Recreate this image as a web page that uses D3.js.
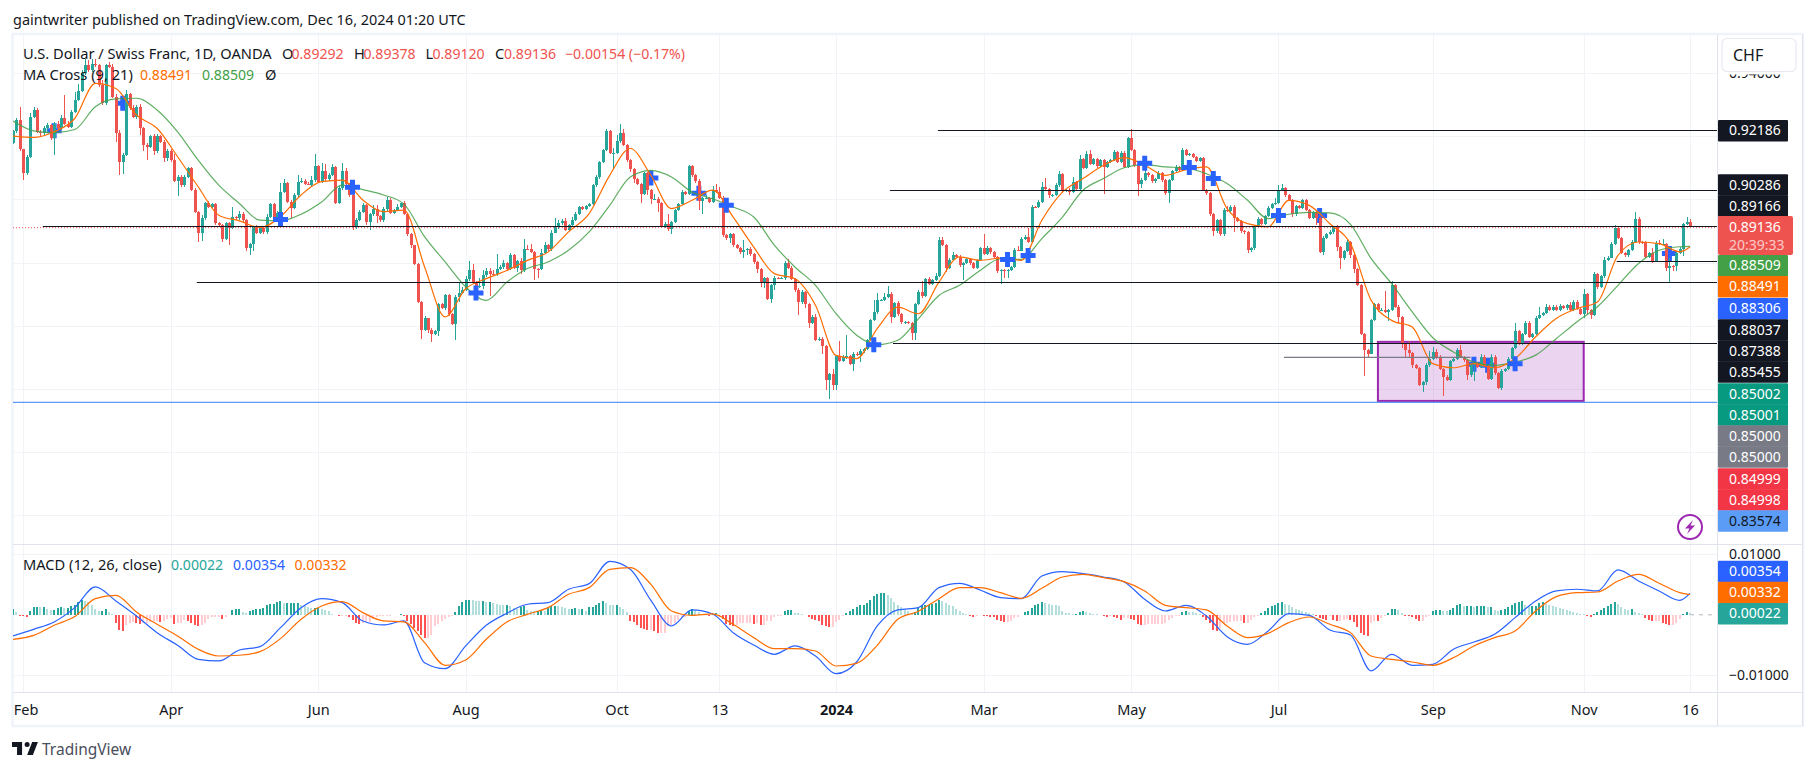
<!DOCTYPE html>
<html>
<head>
<meta charset="utf-8">
<script src="https://cdn.jsdelivr.net/npm/d3@7"></script>
<style>
  body { margin: 0; background: #fff; }
  text { font-family: "Noto Sans", sans-serif; font-size: 14px; fill: #131722; }
</style>
</head>
<body>
<div id="chart"></div>
<script>
// daily closes, in pips (1e-4 CHF)
const firstOpen = 9180;
const closes = [
9215,9251,9158,9082,9135,9262,9283,9214,9209,9225,
9235,9193,9240,9225,9256,9240,9230,9277,9316,9344,
9399,9425,9409,9430,9425,9362,9304,9425,9420,9325,
9211,9119,9142,9335,9288,9262,9293,9225,9172,9167,
9200,9154,9200,9182,9130,9154,9124,9059,9072,9045,
9072,9098,9031,8961,8894,8940,8989,8977,8985,8924,
8919,8876,8924,8910,8945,8940,8955,8934,8845,8858,
8911,8894,8910,8897,8945,8985,8943,8958,9024,9053,
8992,8974,9014,9056,9058,9050,9047,9061,9105,9056,
9091,9063,9077,9103,8989,9035,9090,9048,9014,8915,
8936,8961,8982,8927,8953,8971,8947,8934,8968,8999,
8958,8966,8977,8987,8953,8890,8854,8795,8676,8588,
8623,8588,8575,8583,8668,8655,8696,8636,8606,8691,
8704,8714,8749,8775,8738,8723,8726,8760,8772,8765,
8763,8781,8786,8799,8781,8823,8784,8805,8775,8844,
8843,8833,8781,8780,8830,8857,8843,8895,8912,8926,
8930,8904,8918,8936,8955,8976,8970,8978,8986,9045,
9071,9118,9157,9215,9147,9148,9185,9210,9171,9124,
9097,9066,9050,9018,9083,9029,9000,9002,8989,8913,
8923,8906,8928,8967,8986,9023,9018,9105,9076,9058,
8995,9005,9005,8992,9029,9023,9005,8886,8878,8889,
8855,8847,8833,8839,8844,8826,8802,8781,8735,8751,
8686,8728,8751,8750,8751,8800,8784,8749,8712,8675,
8707,8670,8609,8628,8556,8559,8535,8427,8448,8411,
8503,8488,8501,8503,8478,8511,8506,8520,8526,8556,
8617,8643,8680,8680,8691,8701,8628,8672,8636,8611,
8611,8610,8577,8670,8707,8693,8748,8733,8744,8757,
8870,8856,8784,8809,8823,8818,8791,8798,8810,8799,
8784,8807,8847,8828,8847,8833,8818,8773,8778,8777,
8777,8786,8839,8838,8876,8880,8865,8976,8975,8992,
9039,9034,9013,9015,9045,9079,9029,9030,9023,9055,
9034,9129,9100,9145,9113,9129,9105,9124,9103,9118,
9124,9150,9118,9147,9103,9194,9155,9108,9048,9062,
9084,9076,9058,9066,9084,9060,9020,9060,9090,9103,
9094,9157,9140,9143,9134,9120,9132,9029,9020,8953,
8900,8934,8889,8967,8962,8976,8942,8932,8900,8896,
8839,8846,8915,8939,8923,8946,8974,8984,8989,9029,
9037,9013,8997,8955,8978,8974,8997,8966,8942,8960,
8940,8834,8879,8890,8897,8911,8850,8813,8837,8865,
8823,8781,8728,8575,8522,8512,8617,8668,8649,8651,
8644,8649,8728,8660,8628,8541,8522,8514,8475,8467,
8414,8422,8475,8496,8517,8501,8464,8438,8429,8489,
8495,8522,8501,8490,8443,8475,8480,8470,8501,8472,
8433,8501,8451,8404,8457,8464,8496,8528,8583,8543,
8573,8609,8563,8573,8623,8633,8640,8660,8649,8660,
8649,8662,8655,8665,8649,8675,8654,8638,8700,8650,
8633,8765,8723,8757,8809,8816,8860,8908,8879,8831,
8823,8841,8865,8939,8865,8864,8818,8831,8805,8862,
8860,8860,8784,8790,8789,8831,8844,8921,8929,8913.6];

// wick length above / below the body, in pips
const upWicks = [
5,5,40,3,5,12,10,5,5,8, 8,5,5,8,12,75,8,5,25,20, 10,20,15,15,15,3,15,5,10,8, 8,8,5,10,3,12,5,8,5,5,
5,8,8,5,5,6,5,20,5,5, 5,5,3,5,3,12,3,5,5,5, 5,3,5,5,32,3,8,5,3,3, 3,8,5,5,8,3,5,5,28,10,
3,5,5,20,10,5,5,12,40,5, 25,22,5,8,3,8,25,8,5,5, 5,5,5,3,5,12,10,5,8,10, 5,5,8,3,8,3,3,3,3,3,
8,3,5,5,3,5,3,3,3,5, 30,10,10,30,20,3,25,15,12,10, 10,45,5,8,3,8,5,3,10,30, 10,15,3,3,12,8,3,8,30,8,
8,10,5,8,5,3,3,3,3,3, 5,3,3,8,3,15,20,30,12,5, 5,3,3,3,3,5,5,15,5,3, 5,30,3,3,3,8,3,5,3,3,
5,3,10,3,12,20,15,5,3,5, 3,3,3,32,3,5,3,3,3,3, 3,5,5,3,3,5,10,5,3,8, 5,3,3,5,10,5,5,3,3,15,
3,50,5,68,3,5,5,5,5,3, 3,40,25,5,12,25,5,3,5,3, 3,3,3,3,5,35,3,5,5,10, 12,10,3,5,10,3,5,5,3,3,
3,5,3,42,5,3,5,3,3,3, 3,3,8,12,5,8,30,5,3,5, 15,30,3,3,8,12,3,3,5,15, 3,12,3,8,10,3,3,3,3,5,
5,5,3,5,5,3,28,3,3,5, 8,3,3,3,5,3,3,3,3,5, 3,5,3,5,3,3,3,3,3,3, 3,5,3,5,12,5,5,3,3,3,
3,3,3,5,3,5,5,5,15,15, 12,3,3,3,5,3,5,3,3,3, 5,3,5,3,5,5,8,3,3,5, 3,3,3,3,3,3,5,5,3,5,
60,3,15,5,5,3,3,30,3,3, 3,3,8,25,15,10,5,3,5,3, 5,8,18,3,5,5,5,5,10,5, 5,8,5,3,5,3,5,5,25,5,
5,5,5,3,8,25,5,8,5,5, 5,8,5,5,10,8,5,3,15,5, 3,5,3,5,8,5,5,10,3,3, 3,3,5,20,5,3,3,3,15,5,
10,15,3,25,3,5,5,5,15,9];
const downWicks = [
5,5,5,20,5,5,5,5,10,5, 15,5,52,5,5,5,3,5,3,5, 5,5,5,5,5,5,5,5,5,5, 30,42,40,5,5,5,8,20,20,42,
5,12,8,5,12,8,5,3,48,5, 5,5,5,5,30,27,5,5,5,5, 5,12,5,55,5,5,5,5,8,22, 22,5,5,8,8,5,5,5,5,5,
5,32,5,5,3,3,3,5,5,5, 5,5,5,3,5,5,5,5,5,12, 8,3,3,8,25,5,22,5,5,5, 3,3,3,3,3,5,8,3,5,30,
5,12,25,3,15,3,5,5,5,50, 15,5,5,8,5,5,5,10,5,70, 3,5,5,5,5,5,5,15,10,5, 3,3,35,30,5,3,5,8,3,5,
8,5,3,3,3,3,3,3,3,3, 5,5,3,5,3,50,5,5,3,5, 10,15,5,28,5,15,15,3,30,5, 5,5,15,3,3,5,5,3,5,5,
30,40,5,5,3,3,5,5,8,15, 5,5,5,20,15,5,5,15,12,15, 5,15,15,3,3,5,5,3,5,40, 5,15,15,3,3,3,25,30,60,15,
15,3,3,5,3,20,3,20,5,3, 3,3,5,3,3,3,20,5,5,5, 5,3,22,22,3,5,3,3,3,3, 3,3,15,3,3,5,5,45,3,8,
3,5,3,3,3,5,5,5,40,25, 25,3,3,3,3,5,3,3,3,3, 3,3,8,5,3,5,8,5,8,3, 3,3,5,3,5,3,5,3,85,3,
3,3,3,3,5,3,3,5,38,12, 5,5,5,5,3,5,5,30,3,3, 3,3,3,3,3,3,3,3,5,5, 15,5,5,5,3,5,45,3,8,5,
10,5,5,3,3,3,3,3,3,3, 3,5,3,12,8,5,3,3,5,3, 20,5,10,3,3,8,15,32,5,3, 8,15,3,3,80,12,3,3,5,3,
3,30,3,3,20,10,25,15,10,3, 5,25,10,5,3,5,5,60,3,5, 3,3,3,5,15,5,50,5,3,3, 5,5,8,5,8,3,5,5,3,5,
3,3,3,3,3,3,3,3,3,3, 3,3,3,5,3,3,3,3,15,12, 12,3,8,5,5,3,3,3,3,5, 5,5,3,3,5,5,3,3,5,3,
5,3,10,50,15,15,5,22,3,2];

// indicator lines read every 6th bar, plus the last bar
const lineBars = d3.range(0, 490, 6).concat(489);
const maFast = [
9200,9196,9214,9256,9367,9351,9267,9225,9135,9040,8950,8932,8911,8945,9014,9056,9061,8998,8961,8966,8787,
8628,8717,8749,8775,8807,8833,8897,8955,9076,9161,9076,8971,8997,9029,8944,8849,8765,8749,8665,8506,
8496,8591,8659,8638,8738,8818,8807,8814,8807,8934,9023,9066,9108,9132,9108,9076,9094,9103,8971,8923,8913,
8997,8981,8923,8860,8681,8617,8596,8480,8467,8480,8467,8496,8565,8623,8654,8675,8823,8865,8860,8834,8849];
const maSlow = [
9248,9217,9211,9221,9293,9318,9320,9283,9214,9124,9045,8987,8934,8932,8953,8992,9045,9031,9014,8985,8882,
8802,8723,8680,8738,8781,8802,8839,8897,8981,9071,9092,9071,9023,9002,8976,8944,8855,8786,8728,8638,
8570,8540,8554,8622,8696,8728,8775,8812,8810,8876,8944,9029,9066,9100,9110,9103,9100,9081,9050,8997,8939,
8953,8959,8957,8921,8813,8733,8644,8562,8517,8485,8475,8485,8507,8559,8612,8660,8728,8797,8839,8850,8851];

// MACD pane, in units of 1e-5
const macdLine = [
-350,-240,-118,118,460,229,-19,-295,-504,-736,-763,-581,-526,-212,118,267,201,-102,-168,-102,-791,-890,-515,-174,25,174,201,422,515,
884,752,240,-185,80,14,-295,-499,-653,-515,-681,-973,-780,-185,80,118,449,521,410,284,267,642,714,680,625,543,256,63,157,
-19,-361,-488,-267,19,-8,-251,-333,-928,-653,-835,-818,-570,-449,-322,-47,229,394,422,394,741,559,394,240,354];
const signalLine = [
-405,-339,-174,-30,267,322,47,-157,-350,-570,-681,-669,-609,-394,-74,146,218,36,-102,-118,-460,-835,-747,-405,-118,8,118,339,449,
752,780,504,63,-8,14,-157,-377,-559,-559,-598,-846,-802,-504,-74,58,267,449,449,366,273,438,625,669,614,548,394,157,118,
80,-185,-377,-306,-130,-36,-157,-295,-681,-736,-780,-835,-708,-515,-377,-267,63,300,366,377,559,669,521,366,332];
const histogram = [
99,44,-22,-28,-33,55,127,127,121,121,99,83,83,110,121,110,110,138,165,209,248,231,209,154,99,55,66,99,44,17,
-138,-248,-275,-165,-138,-121,-138,-154,-138,-132,-121,-110,-99,-121,-99,-66,-55,-154,-138,-138,-83,-99,-138,-165,-193,-165,-138,-66,-44,-44,
-39,-66,-33,-11,83,99,99,44,28,66,83,94,99,110,154,182,182,209,231,193,193,193,193,193,154,138,121,110,110,110,
99,83,55,17,-11,-22,-17,-17,-33,-83,-138,-154,-138,-121,-121,-66,-33,-28,-22,-17,-17,-11,-5,17,-28,-110,-154,-220,-275,-330,
-385,-385,-341,-193,-154,-110,-66,-44,-17,44,138,209,237,248,237,231,220,220,209,209,193,182,165,154,154,138,110,99,121,138,
83,66,55,66,83,66,121,138,143,138,121,110,99,99,110,99,99,66,121,121,154,193,231,193,165,154,154,121,99,44,
-110,-121,-165,-220,-231,-248,-248,-275,-303,-303,-303,-193,-165,-138,-83,-55,-44,66,99,83,44,17,-11,-22,17,33,-28,-66,-154,-165,
-193,-165,-138,-132,-132,-132,-154,-138,-165,-165,-110,-110,-44,-28,-17,55,83,83,33,22,11,-11,-44,-72,-83,-110,-165,-193,-204,-204,
-121,-83,-28,28,55,99,132,154,165,193,248,303,341,358,358,330,275,209,165,121,83,55,28,44,110,154,165,165,176,193,
237,220,193,165,138,99,66,33,11,-28,-44,-17,-11,-17,-22,-33,-44,-83,-110,-121,-121,-99,-55,-33,-11,44,55,110,154,182,
204,198,182,165,154,138,66,33,22,11,11,44,55,44,28,11,5,-11,-28,-44,-28,-44,-55,-83,-55,-55,-66,-83,-154,-165,
-165,-154,-154,-154,-154,-154,-138,-83,-55,-28,-17,44,55,50,44,33,17,-44,-83,-138,-248,-264,-220,-154,-132,-121,-110,-99,-99,-138,
-138,-83,-44,-17,28,66,110,138,165,193,209,182,154,121,99,83,66,44,22,11,-17,-55,-66,-83,-17,-83,-99,-99,-83,-66,
-83,-121,-209,-303,-330,-358,-138,-99,-110,-55,-28,28,99,99,83,22,-17,-28,-44,-66,-110,-110,-44,-17,66,77,83,66,55,83,
110,165,182,138,138,138,121,138,138,138,121,121,83,66,77,99,132,154,193,209,220,165,138,138,138,193,209,176,154,138,
121,110,99,83,55,44,22,17,5,-22,-44,17,44,77,110,138,176,209,182,121,99,83,99,44,28,11,-55,-83,-110,-99,
-99,-132,-149,-165,-165,-138,-66,17,44,22];

// MA cross marks: bar and price, drawn over the candles or under them
const crossOverBars = [78, 99, 135, 208, 251, 290, 296, 330, 343, 350, 369, 438];
const crossOverPrices = [8936, 9038, 8704, 8981, 8540, 8810, 8822, 9114, 9101, 9066, 8949, 8480];
const crossUnderBars = [12, 32, 186, 200, 381, 426, 430, 483];
const crossUnderPrices = [9217, 9304, 9068, 9019, 8949, 8478, 8475, 8829];

// horizontal drawings: price and the bar each one starts at
const levelPrices = [0.92186, 0.90286, 0.89166, 0.88037, 0.87388, 0.85455];
const levelStarts = [269.7, 255.7, 8.7, 467.6, 53.6, 256.6];
const grayLevel = 0.85, grayStart = 370.6, grayEnd = 425;
const blueLevel = 0.83574;
const lastPrice = 0.89136;
const boxBars = [398, 458], boxPrices = [0.8549, 0.8362];

// tick labels
const priceTicks = [0.94, 0.92, 0.90, 0.88, 0.86, 0.84, 0.82, 0.80];
const macdTicks = [0.01, -0.01];
const timeBars = [3, 46, 89, 132, 176, 206, 240, 283, 326, 369, 414, 458, 489];
const timeLabels = ["Feb", "Apr", "Jun", "Aug", "Oct", "13", "2024", "Mar", "May", "Jul", "Sep", "Nov", "16"];

// right axis tags, top to bottom
const tagText = ["0.92186","0.90286","0.89166","0.88509","0.88491","0.88306","0.88037","0.87388","0.85455",
                 "0.85002","0.85001","0.85000","0.85000","0.84999","0.84998","0.83574"];
const tagColor = ["#131722","#131722","#131722","#43a047","#ff6d00","#2962ff","#131722","#131722","#131722",
                  "#089981","#089981","#787b86","#787b86","#f23645","#f23645","#5b9cf6"];
const tagCenter = [130.5,184.7,205.7,265.5,286.5,308.5,329.7,350.7,371.7,393.7,414.7,435.7,456.7,478.7,499.7,520.7];
const macdTagText = ["0.00354","0.00332","0.00022"];
const macdTagColor = ["#2962ff","#ff6d00","#26a69a"];
const macdTagCenter = [571.3,592.3,613.5];

const width = 1815, height = 771;
const plot = { left: 13, right: 1717, top: 35, paneBottom: 544.5, macdBottom: 692, bottom: 726, outer: 1802 };

const x = d3.scaleLinear().domain([0, 489]).range([13, 1690]);
const y = d3.scaleLinear().domain([0.94, 0.80]).range([73, 515.3]);
const yMacd = d3.scaleLinear().domain([0.01, -0.01]).range([554.3, 675.3]);

const pip = v => v * 1e-4;
const bars = closes.map((c, i) => {
  const o = i ? closes[i - 1] : firstOpen;
  return { i, o, c, h: Math.max(o, c) + upWicks[i], l: Math.min(o, c) - downWicks[i] };
});

const svg = d3.select('#chart').append('svg')
  .attr('width', width).attr('height', height)
  .style('display', 'block');

svg.append('text').attr('x', 13).attr('y', 25).style('font-size', '14.45px')
  .text('gaintwriter published on TradingView.com, Dec 16, 2024 01:20 UTC');

// Frame
svg.append('rect')
  .attr('x', plot.left - 0.5).attr('y', plot.top - 1)
  .attr('width', plot.outer - plot.left + 1.5).attr('height', plot.bottom - plot.top + 1)
  .attr('fill', '#fff').attr('stroke', '#f0f3fa').attr('stroke-width', 2.5);

svg.append('clipPath').attr('id', 'main-clip').append('rect')
  .attr('x', plot.left).attr('y', plot.top)
  .attr('width', plot.right - plot.left).attr('height', plot.paneBottom - plot.top);
svg.append('clipPath').attr('id', 'macd-clip').append('rect')
  .attr('x', plot.left).attr('y', plot.paneBottom)
  .attr('width', plot.right - plot.left).attr('height', plot.macdBottom - plot.paneBottom);

// Grid
const grid = svg.append('g').attr('stroke', '#f2f3f7').attr('shape-rendering', 'crispEdges');
grid.selectAll('.vg').data(timeBars).enter().append('line')
  .attr('x1', d => Math.round(x(d))).attr('x2', d => Math.round(x(d)))
  .attr('y1', plot.top).attr('y2', plot.macdBottom);
grid.selectAll('.hg').data(priceTicks).enter().append('line')
  .attr('x1', plot.left).attr('x2', plot.right)
  .attr('y1', d => Math.round(y(d))).attr('y2', d => Math.round(y(d)));
grid.selectAll('.mg').data(macdTicks).enter().append('line')
  .attr('x1', plot.left).attr('x2', plot.right)
  .attr('y1', d => Math.round(yMacd(d))).attr('y2', d => Math.round(yMacd(d)));

const main = svg.append('g').attr('clip-path', 'url(#main-clip)');

// Purple zone
main.append('rect')
  .attr('x', x(boxBars[0])).attr('width', x(boxBars[1]) - x(boxBars[0]))
  .attr('y', y(boxPrices[0])).attr('height', y(boxPrices[1]) - y(boxPrices[0]))
  .attr('fill', 'rgba(156,39,176,0.2)').attr('stroke', '#9c27b0').attr('stroke-width', 2);

const crossSym = d3.symbol().type(d3.symbolCross).size(125);
function drawCrosses(barsIdx, prices) {
  main.append('g').selectAll('path').data(barsIdx).enter().append('path')
    .attr('d', crossSym)
    .attr('fill', '#2962ff')
    .attr('transform', (d, k) => `translate(${x(d)},${y(pip(prices[k]))})`);
}
drawCrosses(crossUnderBars, crossUnderPrices);

// Candles
const candle = main.append('g').attr('shape-rendering', 'crispEdges')
  .selectAll('g').data(bars).enter().append('g')
  .attr('fill', d => d.c >= d.o ? '#26a69a' : '#ef5350');
candle.append('rect')
  .attr('x', d => Math.round(x(d.i))).attr('width', 1)
  .attr('y', d => y(pip(d.h))).attr('height', d => y(pip(d.l)) - y(pip(d.h)));
candle.append('rect')
  .attr('x', d => Math.round(x(d.i)) - 1).attr('width', 3)
  .attr('y', d => y(pip(Math.max(d.o, d.c))))
  .attr('height', d => Math.max(1, y(pip(Math.min(d.o, d.c))) - y(pip(Math.max(d.o, d.c)))));

// Moving averages
const maPath = d3.line().x((d, k) => x(lineBars[k])).y(d => y(pip(d))).curve(d3.curveMonotoneX);
main.append('path').attr('d', maPath(maSlow)).attr('fill', 'none').attr('stroke', '#43a047').attr('stroke-width', 1.2).attr('stroke-opacity', 0.85);
main.append('path').attr('d', maPath(maFast)).attr('fill', 'none').attr('stroke', '#ff6d00').attr('stroke-width', 1.2);

drawCrosses(crossOverBars, crossOverPrices);

// Drawn levels
main.append('g').attr('stroke', '#131722').attr('stroke-width', 1)
  .selectAll('line').data(levelPrices).enter().append('line')
  .attr('x1', (d, k) => x(levelStarts[k])).attr('x2', plot.right)
  .attr('y1', d => Math.round(y(d)) + 0.5).attr('y2', d => Math.round(y(d)) + 0.5);
main.append('line').attr('x1', x(grayStart)).attr('x2', x(grayEnd)).attr('y1', y(grayLevel)).attr('y2', y(grayLevel))
  .attr('stroke', '#787b86').attr('stroke-width', 1.2);
main.append('line').attr('x1', plot.left).attr('x2', plot.right).attr('y1', y(blueLevel)).attr('y2', y(blueLevel))
  .attr('stroke', '#5b9cf6').attr('stroke-width', 1.2);
main.append('line').attr('x1', plot.left).attr('x2', plot.right).attr('y1', y(lastPrice) + 1).attr('y2', y(lastPrice) + 1)
  .attr('stroke', '#ef5350').attr('stroke-width', 1).attr('stroke-dasharray', '1 2');

// Lightning badge
const badge = svg.append('g').attr('transform', 'translate(1690,527)');
badge.append('circle').attr('r', 12).attr('fill', '#fff').attr('stroke', '#9c27b0').attr('stroke-width', 2);
badge.append('path').attr('d', 'M3,-7 L-5,1.5 L-0.5,1.5 L-3,7 L5,-1.5 L0.5,-1.5 Z').attr('fill', '#9c27b0');

// MACD pane
const macd = svg.append('g').attr('clip-path', 'url(#macd-clip)');
macd.append('line').attr('x1', x(489)).attr('x2', plot.right).attr('y1', yMacd(0)).attr('y2', yMacd(0))
  .attr('stroke', '#b2b5be').attr('stroke-dasharray', '4 5');
macd.append('g').attr('shape-rendering', 'crispEdges')
  .selectAll('rect').data(histogram).enter().append('rect')
  .attr('x', (d, i) => Math.round(x(i)) - 1).attr('width', 2)
  .attr('y', d => yMacd(Math.max(0, d * 1e-5)))
  .attr('height', d => Math.abs(yMacd(d * 1e-5) - yMacd(0)))
  .attr('fill', (d, i) => {
    const prev = i ? histogram[i - 1] : d;
    if (d >= 0) return d >= prev ? '#26a69a' : '#b2dfdb';
    return d < prev ? '#ff5252' : '#ffcdd2';
  });
const macdPath = d3.line().x((d, k) => x(lineBars[k])).y(d => yMacd(d * 1e-5)).curve(d3.curveMonotoneX);
macd.append('path').attr('d', macdPath(macdLine)).attr('fill', 'none').attr('stroke', '#2962ff').attr('stroke-width', 1.2);
macd.append('path').attr('d', macdPath(signalLine)).attr('fill', 'none').attr('stroke', '#ff6d00').attr('stroke-width', 1.2);

// Axis rules
const rules = svg.append('g').attr('stroke', '#e0e3eb').attr('shape-rendering', 'crispEdges');
rules.append('line').attr('x1', plot.left).attr('x2', plot.outer).attr('y1', 544.5).attr('y2', 544.5);
rules.append('line').attr('x1', plot.left).attr('x2', plot.outer).attr('y1', plot.macdBottom).attr('y2', plot.macdBottom);
rules.append('line').attr('x1', plot.right).attr('x2', plot.right).attr('y1', plot.top).attr('y2', plot.bottom);
rules.append('line').attr('x1', plot.outer).attr('x2', plot.outer).attr('y1', plot.top).attr('y2', plot.bottom);

// Time axis
const timeAxis = svg.append('g').attr('transform', `translate(0,${plot.macdBottom})`)
  .call(d3.axisBottom(x).tickValues(timeBars).tickFormat((d, k) => timeLabels[k]).tickSize(0).tickPadding(13));
timeAxis.select('.domain').remove();
timeAxis.selectAll('text').style('font-size', '14.5px').style('fill', '#131722')
  .style('font-family', '"Noto Sans", sans-serif')
  .style('font-weight', d => d === 240 ? 700 : 400);
timeAxis.selectAll('.tick').filter(d => d === 3).select('text').attr('text-anchor', 'start').attr('x', -10);

// Price axis labels (0.94000 peeks out under the currency button)
const priceAxis = svg.append('g').attr('transform', `translate(${plot.right + 12},0)`)
  .call(d3.axisRight(y).tickValues([0.94]).tickFormat(d3.format('.5f')).tickSize(0).tickPadding(0));
priceAxis.select('.domain').remove();
const macdAxis = svg.append('g').attr('transform', `translate(${plot.right + 12},0)`)
  .call(d3.axisRight(yMacd).tickValues(macdTicks).tickFormat(d => d3.format('.5f')(d).replace('-', '−')).tickSize(0).tickPadding(0));
macdAxis.select('.domain').remove();
[priceAxis, macdAxis].forEach(a => a.selectAll('text')
  .style('font-size', '14px').style('fill', '#131722').style('font-family', '"Noto Sans", sans-serif'));

// Currency button, its white backing hides the top of 0.94000
svg.append('rect').attr('x', 1720).attr('y', 36).attr('width', 78).attr('height', 38.5).attr('fill', '#fff');
svg.append('rect').attr('x', 1722).attr('y', 38.5).attr('width', 74).attr('height', 33).attr('rx', 5)
  .attr('fill', '#fff').attr('stroke', '#e8eaf2').attr('stroke-width', 1.2);
svg.append('text').attr('x', 1733).attr('y', 61).style('font-size', '16px').text('CHF');

// Axis tags
function drawTags(text, color, center, darkLast) {
  const tag = svg.append('g').selectAll('g').data(text).enter().append('g')
    .attr('transform', (d, k) => `translate(1718,${center[k]})`);
  tag.append('rect').attr('y', -10.5).attr('width', 70).attr('height', 21.5).attr('rx', 1)
    .attr('fill', (d, k) => color[k]);
  tag.append('text').attr('x', 11).attr('dy', '.35em').text(d => d)
    .style('fill', (d, k) => darkLast && k === text.length - 1 ? '#131722' : '#fff');
}
drawTags(tagText, tagColor, tagCenter, true);
drawTags(macdTagText, macdTagColor, macdTagCenter, false);

// Last price tag with countdown
svg.append('rect').attr('x', 1718).attr('y', 216).attr('width', 75).attr('height', 39).attr('rx', 2).attr('fill', '#ef5350');
svg.append('text').attr('x', 1729).attr('y', 232).style('fill', '#fff').text('0.89136');
svg.append('text').attr('x', 1729).attr('y', 250).style('fill', '#fff').style('fill-opacity', 0.7).text('20:39:33');

// Legends: word labels run a little wider than the numbers
function legend(yPos, items) {
  svg.append('g').selectAll('text').data(items).enter().append('text')
    .attr('x', d => d[0]).attr('y', yPos).style('fill', d => d[2])
    .style('font-size', d => /^[0-9−]/.test(d[1]) ? '14.1px' : '14.65px').text(d => d[1]);
}
const red = '#ef5350', ink = '#131722';
legend(59, [[23, 'U.S. Dollar / Swiss Franc, 1D, OANDA', ink], [282, 'O', ink], [291.5, '0.89292', red], [354, 'H', ink],
  [363.5, '0.89378', red], [425.5, 'L', ink], [432.5, '0.89120', red], [495, 'C', ink], [504, '0.89136', red], [565, '−0.00154 (−0.17%)', red]]);
legend(80, [[23, 'MA Cross (9, 21)', ink], [140, '0.88491', '#ff6d00'], [202, '0.88509', '#43a047'], [265, 'Ø', ink]]);
legend(570, [[23, 'MACD (12, 26, close)', ink], [171, '0.00022', '#26a69a'], [233, '0.00354', '#2962ff'], [294.5, '0.00332', '#ff6d00']]);

// TradingView mark
svg.append('path').attr('transform', 'translate(12,742) scale(0.72)')
  .attr('d', 'M14 0H0v7h7v11h7V0zm15 18h-8L28 0h8l-7 18zM21 7a3.5 3.5 0 1 0 0-7 3.5 3.5 0 0 0 0 7z')
  .attr('fill', '#131722');
svg.append('text').attr('x', 42).attr('y', 755).style('font-size', '15.5px').style('fill', '#4a4e5a').text('TradingView');
</script>
</body>
</html>
